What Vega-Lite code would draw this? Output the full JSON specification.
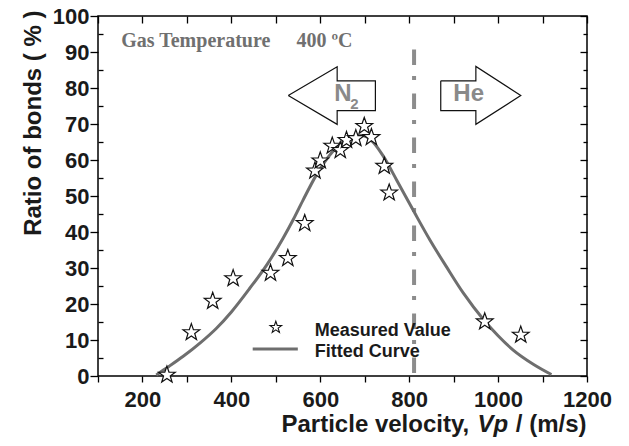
{
  "$schema": "https://vega.github.io/schema/vega-lite/v6.json",
  "width": 489,
  "height": 360,
  "autosize": {"type": "none"},
  "padding": {"left": 98, "top": 16, "right": 42, "bottom": 70},
  "background": "white",
  "config": {
    "view": {"stroke": "#000", "strokeWidth": 1.5},
    "axis": {
      "domain": false,
      "grid": false,
      "tickColor": "#000",
      "tickWidth": 1.3,
      "labelFont": "Liberation Sans",
      "labelFontWeight": "bold",
      "labelFontSize": 22,
      "labelColor": "#1a1a1a",
      "labelFlush": false,
      "labelOverlap": false,
      "titleFont": "Liberation Sans",
      "titleFontWeight": "bold",
      "titleColor": "#1a1a1a"
    }
  },
  "datasets": {
    "measured": [
      {"v": 255, "r": 0.3},
      {"v": 310, "r": 12.1},
      {"v": 358, "r": 20.8},
      {"v": 404, "r": 27.1},
      {"v": 488, "r": 28.6},
      {"v": 527, "r": 32.7},
      {"v": 565, "r": 42.4},
      {"v": 588, "r": 57.0},
      {"v": 600, "r": 59.8},
      {"v": 627, "r": 63.9},
      {"v": 645, "r": 62.7},
      {"v": 659, "r": 65.5},
      {"v": 680, "r": 66.0},
      {"v": 699, "r": 69.4},
      {"v": 715, "r": 66.3},
      {"v": 744, "r": 58.3},
      {"v": 755, "r": 50.9},
      {"v": 970, "r": 15.1},
      {"v": 1051, "r": 11.4}
    ],
    "fitted": [
      {"v": 231, "r": 0.3},
      {"v": 260, "r": 2.7},
      {"v": 291, "r": 5.4},
      {"v": 330, "r": 9.2},
      {"v": 366, "r": 13.2},
      {"v": 400, "r": 17.8},
      {"v": 441, "r": 24.3},
      {"v": 482, "r": 31.3},
      {"v": 516, "r": 38.2},
      {"v": 539, "r": 43.4},
      {"v": 561, "r": 48.8},
      {"v": 591, "r": 55.8},
      {"v": 610, "r": 59.5},
      {"v": 629, "r": 62.5},
      {"v": 648, "r": 64.8},
      {"v": 666, "r": 66.2},
      {"v": 690, "r": 66.9},
      {"v": 705, "r": 66.4},
      {"v": 720, "r": 64.8},
      {"v": 741, "r": 61.2},
      {"v": 772, "r": 54.4},
      {"v": 811, "r": 45.6},
      {"v": 847, "r": 37.7},
      {"v": 884, "r": 30.3},
      {"v": 922, "r": 23.0},
      {"v": 967, "r": 15.7},
      {"v": 1000, "r": 11.2},
      {"v": 1034, "r": 7.2},
      {"v": 1080, "r": 3.2},
      {"v": 1120, "r": 0.4}
    ],
    "arrows": [
      {"g": "N2", "o": 1, "v": 528, "r": 77.9},
      {"g": "N2", "o": 2, "v": 638, "r": 85.9},
      {"g": "N2", "o": 3, "v": 638, "r": 82.0},
      {"g": "N2", "o": 4, "v": 724, "r": 82.0},
      {"g": "N2", "o": 5, "v": 724, "r": 73.7},
      {"g": "N2", "o": 6, "v": 638, "r": 73.7},
      {"g": "N2", "o": 7, "v": 638, "r": 69.9},
      {"g": "N2", "o": 8, "v": 528, "r": 77.9},
      {"g": "He", "o": 1, "v": 871, "r": 82.0},
      {"g": "He", "o": 2, "v": 950, "r": 82.0},
      {"g": "He", "o": 3, "v": 950, "r": 86.0},
      {"g": "He", "o": 4, "v": 1051, "r": 77.9},
      {"g": "He", "o": 5, "v": 950, "r": 69.9},
      {"g": "He", "o": 6, "v": 950, "r": 73.7},
      {"g": "He", "o": 7, "v": 871, "r": 73.7},
      {"g": "He", "o": 8, "v": 871, "r": 82.0}
    ]
  },
  "layer": [
    {
      "data": {"values": [{"v": 811, "top": 90.7, "bottom": 0}]},
      "mark": {"type": "rule", "color": "#8c8c8c", "strokeWidth": 4, "strokeDash": [15.5, 11, 4, 13.5]},
      "encoding": {
        "x": {"field": "v", "type": "quantitative", "scale": {"domain": [100, 1200], "nice": false, "zero": false}, "axis": null},
        "y": {"field": "top", "type": "quantitative", "scale": {"domain": [0, 100], "nice": false}, "axis": null},
        "y2": {"field": "bottom"}
      }
    },
    {
      "data": {"name": "fitted"},
      "mark": {"type": "line", "color": "#6e6e6e", "strokeWidth": 3, "interpolate": "monotone"},
      "encoding": {
        "x": {
          "field": "v", "type": "quantitative",
          "scale": {"domain": [100, 1200], "nice": false, "zero": false},
          "axis": {
            "orient": "bottom",
            "values": [100, 200, 300, 400, 500, 600, 700, 800, 900, 1000, 1100, 1200],
            "format": "d",
            "labelExpr": "datum.value % 200 === 0 && datum.value >= 200 ? datum.label : ''",
            "tickSize": 6,
            "labelPadding": 7,
            "title": null
          }
        },
        "y": {
          "field": "r", "type": "quantitative",
          "scale": {"domain": [0, 100], "nice": false},
          "axis": {
            "orient": "left",
            "values": [0, 5, 10, 15, 20, 25, 30, 35, 40, 45, 50, 55, 60, 65, 70, 75, 80, 85, 90, 95, 100],
            "format": "d",
            "labelExpr": "datum.value % 10 === 0 ? datum.label : ''",
            "tickSize": {"condition": {"test": "datum.value % 10 === 0", "value": 8}, "value": -5},
            "labelPadding": 1,
            "title": "Ratio of bonds ( % )",
            "titleFontSize": 24,
            "titleAngle": -90,
            "titleAlign": "right",
            "titleBaseline": "alphabetic",
            "titleX": -58,
            "titleY": -6
          }
        }
      }
    },
    {
      "data": {"name": "measured"},
      "mark": {
        "type": "point",
        "shape": "M0,-1L0.235,-0.324L0.951,-0.309L0.38,0.124L0.588,0.809L0,0.4L-0.588,0.809L-0.38,0.124L-0.951,-0.309L-0.235,-0.324Z",
        "size": 310, "filled": true, "fill": "white", "stroke": "#111", "strokeWidth": 1.2, "opacity": 1
      },
      "encoding": {
        "x": {
          "field": "v", "type": "quantitative",
          "scale": {"domain": [100, 1200], "nice": false, "zero": false},
          "axis": {
            "orient": "top",
            "values": [100, 200, 300, 400, 500, 600, 700, 800, 900, 1000, 1100, 1200],
            "labels": false, "tickSize": -7, "title": null
          }
        },
        "y": {
          "field": "r", "type": "quantitative",
          "scale": {"domain": [0, 100], "nice": false},
          "axis": {
            "orient": "right",
            "values": [0, 5, 10, 15, 20, 25, 30, 35, 40, 45, 50, 55, 60, 65, 70, 75, 80, 85, 90, 95, 100],
            "labels": false,
            "tickSize": {"condition": {"test": "datum.value % 10 === 0", "value": -7}, "value": -4},
            "title": null
          }
        }
      }
    },
    {
      "data": {"name": "arrows"},
      "mark": {"type": "line", "color": "#111", "strokeWidth": 1.2},
      "encoding": {
        "x": {"field": "v", "type": "quantitative", "axis": null},
        "y": {"field": "r", "type": "quantitative", "axis": null},
        "detail": {"field": "g"},
        "order": {"field": "o", "type": "quantitative"}
      }
    },
    {
      "data": {"values": [{"t": "N", "v": 650.7, "r": 78.3}, {"t": "He", "v": 933.8, "r": 78.3}]},
      "mark": {"type": "text", "font": "Liberation Sans", "fontWeight": "bold", "fontSize": 24, "color": "#8a8a8a", "align": "center", "baseline": "middle"},
      "encoding": {
        "x": {"field": "v", "type": "quantitative", "axis": null},
        "y": {"field": "r", "type": "quantitative", "axis": null},
        "text": {"field": "t"}
      }
    },
    {
      "data": {"values": [{"t": "2", "v": 677, "r": 75.6}]},
      "mark": {"type": "text", "font": "Liberation Sans", "fontWeight": "bold", "fontSize": 15, "color": "#8a8a8a", "align": "center", "baseline": "middle"},
      "encoding": {
        "x": {"field": "v", "type": "quantitative", "axis": null},
        "y": {"field": "r", "type": "quantitative", "axis": null},
        "text": {"field": "t"}
      }
    },
    {
      "data": {"values": [{"t": "Gas Temperature", "v": 152.3, "r": 91.4}, {"t": "400 ºC", "v": 546.4, "r": 91.4}]},
      "mark": {"type": "text", "font": "Liberation Serif", "fontWeight": "bold", "fontSize": 20, "color": "#707070", "align": "left", "baseline": "alphabetic"},
      "encoding": {
        "x": {"field": "v", "type": "quantitative", "axis": null},
        "y": {"field": "r", "type": "quantitative", "axis": null},
        "text": {"field": "t"}
      }
    },
    {
      "data": {"values": [{"v": 448, "r": 7.5}, {"v": 549.5, "r": 7.5}]},
      "mark": {"type": "line", "color": "#6e6e6e", "strokeWidth": 3},
      "encoding": {
        "x": {"field": "v", "type": "quantitative", "axis": null},
        "y": {"field": "r", "type": "quantitative", "axis": null}
      }
    },
    {
      "data": {"values": [{"v": 500, "r": 13.5}]},
      "mark": {
        "type": "point",
        "shape": "M0,-1L0.235,-0.324L0.951,-0.309L0.38,0.124L0.588,0.809L0,0.4L-0.588,0.809L-0.38,0.124L-0.951,-0.309L-0.235,-0.324Z",
        "size": 150, "filled": true, "fill": "white", "stroke": "#111", "strokeWidth": 1.1, "opacity": 1
      },
      "encoding": {
        "x": {"field": "v", "type": "quantitative", "axis": null},
        "y": {"field": "r", "type": "quantitative", "axis": null}
      }
    },
    {
      "data": {"values": [{"t": "Measured Value", "v": 587.6, "r": 12.6}, {"t": "Fitted Curve", "v": 587.6, "r": 6.6}]},
      "mark": {"type": "text", "font": "Liberation Sans", "fontWeight": "bold", "fontSize": 18, "color": "#1a1a1a", "align": "left", "baseline": "middle"},
      "encoding": {
        "x": {"field": "v", "type": "quantitative", "axis": null},
        "y": {"field": "r", "type": "quantitative", "axis": null},
        "text": {"field": "t"}
      }
    },
    {
      "data": {"values": [{"t": "Particle velocity,", "v": 512.8, "r": -15.5}, {"t": "/ (m/s)", "v": 1040, "r": -15.5}]},
      "mark": {"type": "text", "font": "Liberation Sans", "fontWeight": "bold", "fontSize": 24, "color": "#1a1a1a", "align": "left", "baseline": "alphabetic"},
      "encoding": {
        "x": {"field": "v", "type": "quantitative", "axis": null},
        "y": {"field": "r", "type": "quantitative", "axis": null},
        "text": {"field": "t"}
      }
    },
    {
      "data": {"values": [{"t": "Vp", "v": 953.8, "r": -15.5}]},
      "mark": {"type": "text", "font": "Liberation Sans", "fontWeight": "bold", "fontStyle": "italic", "fontSize": 24, "color": "#1a1a1a", "align": "left", "baseline": "alphabetic"},
      "encoding": {
        "x": {"field": "v", "type": "quantitative", "axis": null},
        "y": {"field": "r", "type": "quantitative", "axis": null},
        "text": {"field": "t"}
      }
    }
  ],
  "resolve": {"axis": {"x": "independent", "y": "independent"}}
}
